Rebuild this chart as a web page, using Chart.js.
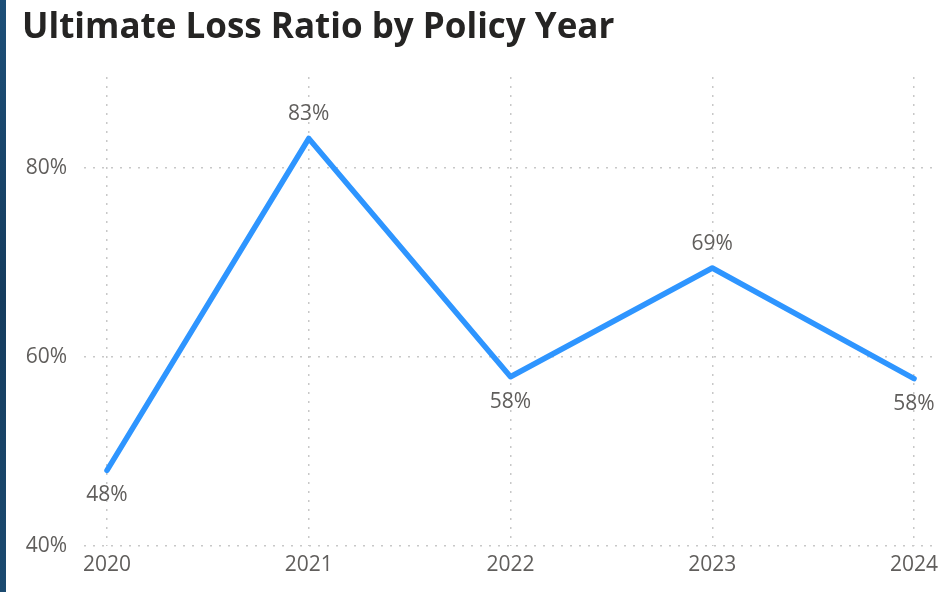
<!DOCTYPE html>
<html>
<head>
<meta charset="utf-8">
<script src="https://cdn.jsdelivr.net/npm/chart.js@4"></script>
<style>
  html, body { margin: 0; padding: 0; background: #ffffff; }
  #wrap { position: relative; width: 948px; height: 592px; overflow: hidden; }
  #strip { position: absolute; left: 0; top: 0; width: 6px; height: 592px;
           background: linear-gradient(180deg, #1d4f78 0%, #153c5e 50%, #1b4a70 100%); }
  #panel { position: absolute; left: 6px; top: 0; width: 942px; height: 592px; background: #fff; border-top-left-radius: 6px; }
  canvas { position: absolute; left: 0; top: 0; }
</style>
</head>
<body>
<div id="wrap">
  <div id="strip"></div>
  <div id="panel"></div>
  <canvas id="c" width="948" height="592"></canvas>
</div>
<script>
const chartTitle = 'Ultimate Loss Ratio by Policy Year';
const years = [2020, 2021, 2022, 2023, 2024];
const lossRatio = [48.0, 83.1, 57.9, 69.4, 57.7];
const yTicks = [40, 60, 80];

const FONT = "'Open Sans', 'Noto Sans', sans-serif";
const TEXT_GRAY = '#605E5C';
const LINE_BLUE = '#2E95FF';

const labelPlugin = {
  id: 'pointLabels',
  afterDatasetsDraw(chart) {
    const ctx = chart.ctx;
    const meta = chart.getDatasetMeta(0);
    const data = chart.data.datasets[0].data;
    ctx.save();
    ctx.font = '21px ' + FONT;
    ctx.fillStyle = TEXT_GRAY;
    ctx.textAlign = 'center';
    ctx.textBaseline = 'middle';
    meta.data.forEach((pt, i) => {
      const v = data[i].y;
      const prev = i > 0 ? data[i - 1].y : -Infinity;
      const next = i < data.length - 1 ? data[i + 1].y : -Infinity;
      const above = v > prev && v > next;
      const y = above ? pt.y - 24 : pt.y + 25;
      ctx.fillText(Math.round(v) + '%', pt.x, y);
    });
    ctx.restore();
  }
};

new Chart(document.getElementById('c'), {
  type: 'line',
  data: {
    datasets: [{
      data: years.map((y, i) => ({ x: y, y: lossRatio[i] })),
      borderColor: LINE_BLUE,
      borderWidth: 5.5,
      pointRadius: 0,
      tension: 0,
      borderCapStyle: 'round',
      borderJoinStyle: 'round',
      fill: false
    }]
  },
  options: {
    responsive: false,
    animation: false,
    devicePixelRatio: 1,
    layout: { padding: { left: 22, right: 15, top: 0, bottom: 0 } },
    plugins: {
      legend: { display: false },
      tooltip: { enabled: false },
      title: {
        display: true,
        text: chartTitle,
        align: 'start',
        color: '#252423',
        font: { family: FONT, size: 35, weight: 'bold', lineHeight: 1.2 },
        padding: { top: 7, bottom: 28 }
      }
    },
    scales: {
      x: {
        type: 'linear',
        min: 2019.886,
        max: 2024.094,
        afterBuildTicks(scale) { scale.ticks = years.map(v => ({ value: v })); },
        afterFit(scale) { scale.height = 46; },
        ticks: {
          color: TEXT_GRAY,
          font: { family: FONT, size: 21 },
          padding: 6,
          maxRotation: 0,
          callback: v => String(v)
        },
        grid: {
          color: '#c8c8c8',
          lineWidth: 1.5,
          drawTicks: false
        },
        border: { display: false, dash: [2, 7] }
      },
      y: {
        min: 40,
        max: 89.6,
        afterBuildTicks(scale) { scale.ticks = yTicks.map(v => ({ value: v })); },
        afterFit(scale) { scale.width = 62; },
        ticks: {
          color: TEXT_GRAY,
          font: { family: FONT, size: 21 },
          padding: 17,
          callback: v => v + '%'
        },
        grid: {
          color: '#c8c8c8',
          lineWidth: 1.5,
          drawTicks: false
        },
        border: { display: false, dash: [2, 7] }
      }
    }
  },
  plugins: [labelPlugin]
});
</script>
</body>
</html>
